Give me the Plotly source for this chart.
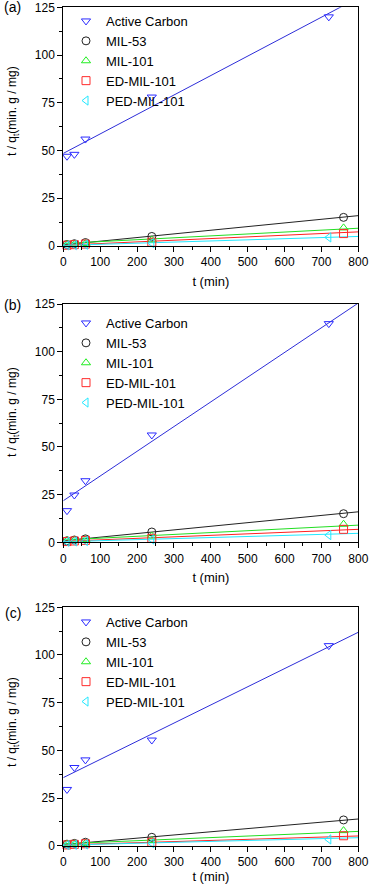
import plotly.graph_objects as go

# ---------------- data ----------------
SERIES = ["Active Carbon", "MIL-53", "MIL-101", "ED-MIL-101", "PED-MIL-101"]
SYMBOLS = ["triangle-down-open", "circle-open", "triangle-up-open", "square-open", "triangle-left-open"]
MARKER_COLORS = ["#2a2aff", "#222222", "#22ee22", "#ff2a2a", "#22e8ff"]
LINE_COLORS = ["#2d2dd8", "#222222", "#22dd22", "#ff2020", "#22e8ff"]

t_ac = [10, 30, 60, 240, 720]
t_mil53 = [10, 30, 60, 240, 760]
t_mil101 = [10, 30, 60, 240, 760]
t_ed = [10, 30, 60, 240, 760]
t_ped = [10, 30, 60, 240, 720]
T_VALUES = [t_ac, t_mil53, t_mil101, t_ed, t_ped]

fit_t = [0, 800]

# panel (a)
a_ac = [47, 48, 56, 78, 120]
a_mil53 = [0.8, 1.2, 1.8, 5.0, 15.0]
a_mil101 = [0.9, 1.0, 1.3, 3.2, 9.5]
a_ed = [0.4, 0.7, 1.0, 2.0, 6.5]
a_ped = [0.3, 0.5, 0.7, 1.5, 4.5]
a_fit_ac = [48.5, 130.0]
a_fit_mil53 = [0.6, 15.9]
a_fit_mil101 = [1.3, 9.3]
a_fit_ed = [0.4, 7.4]
a_fit_ped = [0.3, 5.0]

# panel (b)
b_ac = [16.6, 24.8, 32.3, 56.3, 114.7]
b_mil53 = [0.8, 1.2, 1.8, 5.4, 15.0]
b_mil101 = [0.9, 1.1, 1.4, 3.3, 9.5]
b_ed = [0.4, 0.7, 1.0, 2.1, 6.8]
b_ped = [0.3, 0.5, 0.7, 1.5, 3.8]
b_fit_ac = [21.8, 125.5]
b_fit_mil53 = [0.8, 16.0]
b_fit_mil101 = [1.2, 9.0]
b_fit_ed = [0.5, 6.8]
b_fit_ped = [0.3, 4.7]

# panel (c)
c_ac = [29.5, 41.0, 45.0, 55.4, 104.9]
c_mil53 = [0.8, 1.2, 1.8, 4.4, 13.5]
c_mil101 = [0.9, 1.0, 1.3, 2.8, 7.9]
c_ed = [0.4, 0.7, 1.0, 1.8, 5.2]
c_ped = [0.3, 0.5, 0.7, 1.3, 3.3]
c_fit_ac = [35.7, 111.9]
c_fit_mil53 = [0.6, 14.0]
c_fit_mil101 = [1.0, 7.5]
c_fit_ed = [0.4, 5.1]
c_fit_ped = [0.3, 4.2]

PANELS = [
    ("(a)", [a_ac, a_mil53, a_mil101, a_ed, a_ped], [a_fit_ac, a_fit_mil53, a_fit_mil101, a_fit_ed, a_fit_ped]),
    ("(b)", [b_ac, b_mil53, b_mil101, b_ed, b_ped], [b_fit_ac, b_fit_mil53, b_fit_mil101, b_fit_ed, b_fit_ped]),
    ("(c)", [c_ac, c_mil53, c_mil101, c_ed, c_ped], [c_fit_ac, c_fit_mil53, c_fit_mil101, c_fit_ed, c_fit_ped]),
]

x_ticks = [0, 100, 200, 300, 400, 500, 600, 700, 800]
y_ticks = [0, 25, 50, 75, 100, 125]

# ---------------- layout geometry ----------------
W, H = 369, 884
FONT = "Liberation Sans, Arial, sans-serif"
x_dom = [63.3 / W, 358.3 / W]
# (top_px, bottom_px) of each plot area
plot_px = [(7.3, 246.0), (304.0, 542.3), (607.3, 845.7)]
ytitle_center_px = [111, 412, 722]
label_center_px = [7, 305, 613]
legend_top_px = [6, 308, 607]

fig = go.Figure()
layout = dict(
    width=W, height=H,
    margin=dict(l=0, r=0, t=0, b=0, autoexpand=False),
    paper_bgcolor="white", plot_bgcolor="white",
    font=dict(family=FONT, size=12, color="black"),
    annotations=[],
)

for i, (label, ys, fits) in enumerate(PANELS):
    suf = "" if i == 0 else str(i + 1)
    xa, ya = "x" + suf, "y" + suf
    leg = "legend" + suf
    top, bot = plot_px[i]
    for k in range(5):
        fig.add_trace(go.Scatter(
            x=fit_t, y=fits[k], mode="lines", xaxis=xa, yaxis=ya,
            line=dict(color=LINE_COLORS[k], width=1), showlegend=False,
            hoverinfo="skip", legend=leg,
        ))
    for k in range(5):
        fig.add_trace(go.Scatter(
            x=T_VALUES[k], y=ys[k], mode="markers", name=SERIES[k],
            xaxis=xa, yaxis=ya, legend=leg, cliponaxis=False,
            marker=dict(symbol=SYMBOLS[k], size=8, color=MARKER_COLORS[k],
                        line=dict(width=1, color=MARKER_COLORS[k])),
        ))
    axcommon = dict(
        showline=True, linecolor="black", linewidth=1, mirror=True,
        ticks="outside", ticklen=5, tickwidth=1, tickcolor="black",
        showgrid=False, zeroline=False, automargin=False,
        tickfont=dict(family=FONT, size=12, color="black"),
    )
    layout["xaxis" + suf] = dict(
        axcommon, domain=x_dom, range=[0, 800], tickvals=x_ticks,
        anchor=ya,
        minor=dict(ticks="outside", ticklen=3, tickcolor="black", dtick=50, tick0=0, showgrid=False),
        title=dict(text="t (min)", font=dict(family=FONT, size=13), standoff=8),
    )
    layout["yaxis" + suf] = dict(
        axcommon, domain=[1 - bot / H, 1 - top / H], range=[0, 125], tickvals=y_ticks,
        anchor=xa,
        minor=dict(ticks="outside", ticklen=3, tickcolor="black", dtick=12.5, tick0=0, showgrid=False),
    )
    layout[leg] = dict(
        x=66 / W, y=1 - legend_top_px[i] / H, xanchor="left", yanchor="top",
        bgcolor="rgba(0,0,0,0)", borderwidth=0,
        font=dict(family=FONT, size=13, color="black"),
    )
    layout["annotations"].append(dict(
        text="t / q<sub>t</sub>(min. g / mg)", textangle=-90,
        x=13 / W, y=1 - ytitle_center_px[i] / H, xref="paper", yref="paper",
        xanchor="center", yanchor="middle", showarrow=False,
        font=dict(family=FONT, size=12, color="black"),
    ))
    layout["annotations"].append(dict(
        text=label, x=13 / W, y=1 - label_center_px[i] / H, xref="paper", yref="paper",
        xanchor="center", yanchor="middle", showarrow=False,
        font=dict(family=FONT, size=14, color="black"),
    ))

fig.update_layout(**layout)
fig.write_html("out.html", config={"displayModeBar": False},
               post_script="document.body.style.margin='0';document.body.style.padding='0';")
